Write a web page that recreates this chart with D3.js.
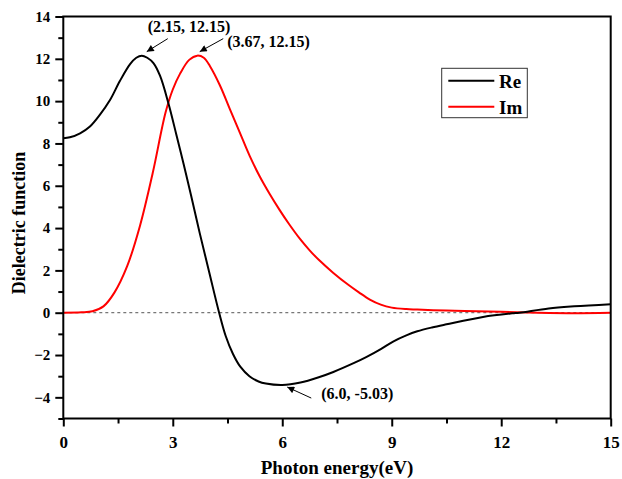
<!DOCTYPE html>
<html>
<head>
<meta charset="utf-8">
<script src="https://cdn.jsdelivr.net/npm/d3@7"></script>
<style>
  html, body { margin: 0; padding: 0; background: #fff; }
  svg text { font-family: "Liberation Serif", "Times New Roman", serif; font-weight: bold; }
</style>
</head>
<body>
<svg id="chart" width="622" height="479"></svg>
<script>
// Photon energy (eV) and dielectric function components
const reEnergy = [0, 0.18, 0.46, 0.73, 1.0, 1.28, 1.55, 1.83, 2.0, 2.15, 2.3, 2.47, 2.65, 2.88, 3.1, 3.3, 3.5, 3.74, 4.0, 4.27, 4.45, 4.65, 4.85, 5.1, 5.35, 5.55, 6.0, 6.5, 7.0, 7.4, 8.0, 8.3, 8.7, 9.05, 9.4, 9.7, 10.1, 10.5, 11.5, 12.3, 12.5, 13.3, 14.0, 15.0];
const reValues = [8.24, 8.29, 8.48, 8.8, 9.35, 10.05, 10.95, 11.75, 12.05, 12.15, 12.05, 11.8, 11.2, 9.9, 8.4, 7.0, 5.55, 3.75, 1.9, 0, -1.1, -1.95, -2.55, -3.0, -3.25, -3.35, -3.42, -3.3, -3.05, -2.8, -2.35, -2.1, -1.72, -1.35, -1.07, -0.88, -0.7, -0.55, -0.2, -0.03, 0, 0.2, 0.3, 0.4];

const imEnergy = [0, 0.5, 0.8, 1.1, 1.4, 1.75, 2.1, 2.45, 2.8, 3.0, 3.2, 3.45, 3.67, 3.85, 4.02, 4.29, 4.57, 4.84, 5.11, 5.38, 5.66, 5.93, 6.19, 6.48, 6.75, 7.0, 7.4, 7.8, 8.1, 8.4, 8.7, 9.0, 9.4, 9.7, 10.5, 11.0, 12.0, 13.0, 14.0, 15.0];
const imValues = [0, 0.02, 0.07, 0.3, 0.95, 2.2, 4.1, 6.6, 9.45, 10.55, 11.3, 11.95, 12.15, 12.05, 11.65, 10.75, 9.6, 8.5, 7.4, 6.45, 5.6, 4.85, 4.18, 3.5, 2.95, 2.5, 1.88, 1.33, 0.96, 0.62, 0.38, 0.24, 0.17, 0.15, 0.1, 0.08, 0.04, 0.0, -0.02, 0.0];

const xMajorTicks = [0, 3, 6, 9, 12, 15];
const xMinorTicks = [1.5, 4.5, 7.5, 10.5, 13.5];
const yMajorTicks = [-4, -2, 0, 2, 4, 6, 8, 10, 12, 14];
const yMinorTicks = [-5, -3, -1, 1, 3, 5, 7, 9, 11, 13];

const seriesNames = ["Re", "Im"];
const seriesColors = ["#000000", "#ff0000"];

// Annotated points: [energy, value, label]
const annoPoints = [
  [2.15, 12.15, "(2.15, 12.15)"],
  [3.67, 12.15, "(3.67, 12.15)"],
  [6.0, -3.42, "(6.0, -5.03)"]
];

const svg = d3.select("#chart");
const plotLeft = 63.3, plotRight = 610.7, plotTop = 16.5, plotBottom = 418.5;

const x = d3.scaleLinear().domain([0, 15]).range([plotLeft, plotRight]);
const y = d3.scaleLinear().domain([-5, 14]).range([plotBottom, plotTop]);

const defs = svg.append("defs");
defs.append("marker")
  .attr("id", "arrowHead")
  .attr("viewBox", "0 0 10 10")
  .attr("refX", 10).attr("refY", 5)
  .attr("markerWidth", 9).attr("markerHeight", 7)
  .attr("markerUnits", "userSpaceOnUse")
  .attr("orient", "auto")
  .append("path").attr("d", "M0,0 L10,5 L0,10 Z").attr("fill", "#000");

defs.append("clipPath").attr("id", "plotClip")
  .append("rect").attr("x", plotLeft).attr("y", plotTop)
  .attr("width", plotRight - plotLeft).attr("height", plotBottom - plotTop);

// Zero reference line
svg.append("line")
  .attr("x1", x(0)).attr("x2", x(15))
  .attr("y1", y(0)).attr("y2", y(0))
  .attr("stroke", "#555").attr("stroke-width", 1)
  .attr("stroke-dasharray", "3,3");

const line = d3.line()
  .x(d => x(d[0]))
  .y(d => y(d[1]))
  .curve(d3.curveCatmullRom.alpha(0.5));

const series = [
  d3.zip(reEnergy, reValues),
  d3.zip(imEnergy, imValues)
];

const g = svg.append("g").attr("clip-path", "url(#plotClip)");
// Im drawn first so the Re curve sits on top at the crossing
[1, 0].forEach(i => {
  g.append("path")
    .datum(series[i])
    .attr("d", line)
    .attr("fill", "none")
    .attr("stroke", seriesColors[i])
    .attr("stroke-width", 2)
    .attr("stroke-linejoin", "round");
});

// Frame
svg.append("rect")
  .attr("x", plotLeft).attr("y", plotTop)
  .attr("width", plotRight - plotLeft).attr("height", plotBottom - plotTop)
  .attr("fill", "none").attr("stroke", "#000").attr("stroke-width", 2);

// Bottom axis
const xAxis = svg.append("g").attr("transform", `translate(0,${plotBottom})`);
xAxis.call(d3.axisBottom(x).tickValues(xMajorTicks).tickSize(8).tickFormat(d3.format("d")));
xAxis.append("g").call(d3.axisBottom(x).tickValues(xMinorTicks).tickSize(5).tickFormat(""));
xAxis.selectAll(".domain").remove();
xAxis.selectAll("line").attr("stroke", "#000").attr("stroke-width", 2);
xAxis.selectAll("text")
  .attr("font-size", 17).attr("fill", "#000")
  .attr("font-family", "Liberation Serif").attr("font-weight", "bold")
  .attr("y", 17);

// Left axis
const yAxis = svg.append("g").attr("transform", `translate(${plotLeft},0)`);
yAxis.call(d3.axisLeft(y).tickValues(yMajorTicks).tickSize(8).tickFormat(d3.format("d")));
yAxis.append("g").call(d3.axisLeft(y).tickValues(yMinorTicks).tickSize(5).tickFormat(""));
yAxis.selectAll(".domain").remove();
yAxis.selectAll("line").attr("stroke", "#000").attr("stroke-width", 2);
yAxis.selectAll("text")
  .attr("font-size", 15).attr("fill", "#000")
  .attr("font-family", "Liberation Serif").attr("font-weight", "bold")
  .attr("x", -13);

// Axis titles
svg.append("text")
  .attr("x", 337).attr("y", 474)
  .attr("text-anchor", "middle").attr("font-size", 19)
  .text("Photon energy(eV)");

svg.append("text")
  .attr("transform", `translate(25,${223}) rotate(-90)`)
  .attr("text-anchor", "middle").attr("font-size", 18)
  .text("Dielectric function");

// Annotations: arrow offsets (tip, tail) and label anchors relative to the point
const annoLayout = [
  { tip: [5, -4], tail: [26, -17], label: [6, -24] },
  { tip: [2.5, -4], tail: [26, -17], label: [30, -9] },
  { tip: [5, 2], tail: [29, 13], label: [39, 14] }
];
annoPoints.forEach((p, i) => {
  const px = x(p[0]), py = y(p[1]);
  const L = annoLayout[i];
  svg.append("line")
    .attr("x1", px + L.tail[0]).attr("y1", py + L.tail[1])
    .attr("x2", px + L.tip[0]).attr("y2", py + L.tip[1])
    .attr("stroke", "#000").attr("stroke-width", 1)
    .attr("marker-end", "url(#arrowHead)");
  svg.append("text")
    .attr("x", px + L.label[0]).attr("y", py + L.label[1])
    .attr("font-size", 16)
    .text(p[2]);
});

// Legend
const legend = svg.append("g");
legend.append("rect")
  .attr("x", 441.7).attr("y", 68.3).attr("width", 85.6).attr("height", 49.4)
  .attr("fill", "#fff").attr("stroke", "#333").attr("stroke-width", 1);
seriesNames.forEach((name, i) => {
  const ly = 80.7 + i * 26;
  legend.append("line")
    .attr("x1", 448.3).attr("x2", 494.3)
    .attr("y1", ly).attr("y2", ly)
    .attr("stroke", seriesColors[i]).attr("stroke-width", 2);
  legend.append("text")
    .attr("x", 499).attr("y", ly + 7)
    .attr("font-size", 19)
    .text(name);
});
</script>
</body>
</html>
